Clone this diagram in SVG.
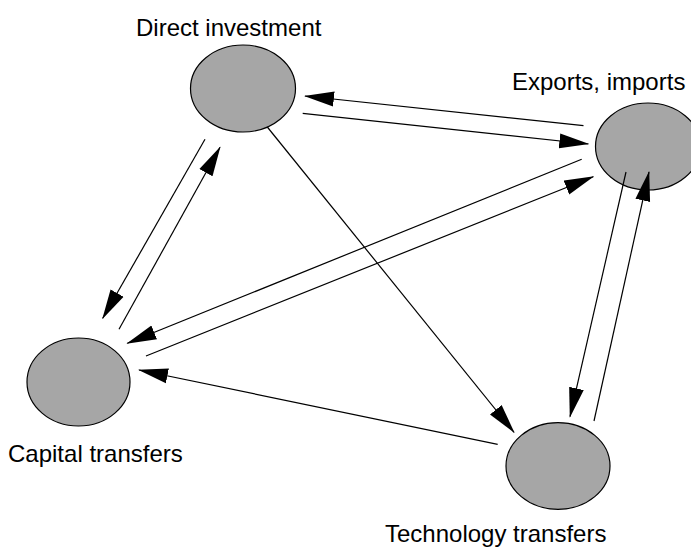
<svg xmlns="http://www.w3.org/2000/svg" width="691" height="548" viewBox="0 0 691 548">
<style>
.node{fill:#a6a6a6;stroke:#000;stroke-width:1.2}
.lbl{font-family:"Liberation Sans",Arial,sans-serif;font-size:24px;fill:#000}
.c{stroke:#000;stroke-width:1.2;fill:none;marker-end:url(#ah)}
</style>
<defs>
<marker id="ah" markerUnits="userSpaceOnUse" markerWidth="30" markerHeight="16" refX="29" refY="7.5" orient="auto" viewBox="0 0 30 15">
<path d="M0,0 L30,7.5 L0,15 z" fill="#000"/>
</marker>
</defs>
<rect width="691" height="548" fill="#fff"/>
<g id="direct-investment">
<ellipse class="node" cx="243" cy="88.5" rx="52.5" ry="43.5"/>
<text class="lbl" x="136" y="36">Direct investment</text>
</g>
<g id="exports-imports">
<ellipse class="node" cx="648" cy="146.5" rx="52.5" ry="43.5"/>
<text class="lbl" x="512" y="90">Exports, imports</text>
</g>
<g id="capital-transfers">
<ellipse class="node" cx="78.5" cy="382" rx="51.5" ry="44"/>
<text class="lbl" x="8" y="462">Capital transfers</text>
</g>
<g id="technology-transfers">
<ellipse class="node" cx="558" cy="466" rx="52" ry="43.3"/>
<text class="lbl" x="385" y="542">Technology transfers</text>
</g>
<g id="connectors">
<line class="c" x1="583.5" y1="125.7" x2="305" y2="96"/>
<line class="c" x1="302.7" y1="113.3" x2="588.3" y2="144"/>
<line class="c" x1="205" y1="139.3" x2="102.7" y2="318.3"/>
<line class="c" x1="119" y1="329.3" x2="220" y2="147.3"/>
<line class="c" x1="581.7" y1="159.3" x2="127.3" y2="343.3"/>
<line class="c" x1="146" y1="356" x2="593.3" y2="176.7"/>
<line class="c" x1="267.3" y1="127" x2="514" y2="432.3"/>
<line class="c" x1="497.7" y1="444.3" x2="139" y2="370"/>
<line class="c" x1="626" y1="172" x2="570" y2="416.7"/>
<line class="c" x1="594" y1="421" x2="649" y2="172"/>
</g>
</svg>
